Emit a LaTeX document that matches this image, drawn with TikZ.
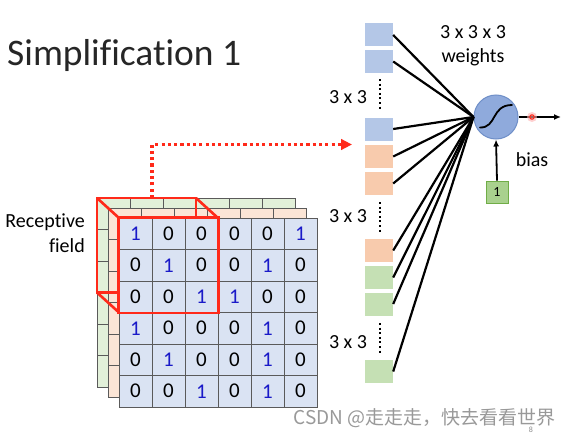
\documentclass[tikz,border=0pt]{standalone}
\usepackage{fontspec}
\setmainfont{Carlito}[Ligatures={NoCommon}]
\newfontfamily\cjk{Noto Sans CJK SC}
\usetikzlibrary{arrows.meta}
\definecolor{cellB}{HTML}{DAE3F3}
\definecolor{cellO}{HTML}{FBE5D6}
\definecolor{cellG}{HTML}{E2F0D9}
\definecolor{sqB}{HTML}{B4C7E7}
\definecolor{sqO}{HTML}{F8CBAD}
\definecolor{sqG}{HTML}{C5E0B4}
\definecolor{neur}{HTML}{8FAADC}
\definecolor{neurB}{HTML}{6F8FC8}
\definecolor{biasG}{HTML}{A9D18E}
\definecolor{biasB}{HTML}{70AD47}
\definecolor{oneblue}{HTML}{1A1AC8}
\definecolor{redl}{HTML}{FF2A1A}
\definecolor{gridl}{HTML}{5A5A5A}
\begin{document}
\begin{tikzpicture}[x=1pt,y=-1pt,
  cell/.style={draw=gridl, line width=0.9pt, minimum width=33pt, minimum height=31.5pt, inner sep=0pt, font=\fontsize{21}{21}\selectfont},
  sq/.style={minimum width=28pt, minimum height=23pt, inner sep=0pt},
  wire/.style={line width=2.2pt, black},
  lbl/.style={font=\fontsize{20}{22}\selectfont, inner sep=0pt},
  redbox/.style={draw=redl, line width=2.6pt, line join=miter},
  vdots/.style={line width=2pt, dash pattern=on 2pt off 2.6pt},
]
\useasboundingbox[fill=white] (0,0) rectangle (569,436);

% title
\node[anchor=base west, inner sep=0pt, text=black!85, font=\fontsize{37.5}{40}\selectfont] (title) at (7,65) {Simplification 1};

% back grids
\foreach \r in {0,...,5}{
  \foreach \c in {0,...,5}{
    \node[cell, fill=cellG] (g-\r-\c) at ({97+33*\c+16.5},{198+31.5*\r+15.75}) {};
  }
}
\foreach \r in {0,...,5}{
  \foreach \c in {0,...,5}{
    \node[cell, fill=cellO] (o-\r-\c) at ({108+33*\c+16.5},{208+31.5*\r+15.75}) {};
  }
}
% red cube back
\draw[redbox] (97,198) rectangle (196,292.5);
\draw[redbox] (97,198) -- (119,218);
\draw[redbox] (196,198) -- (218,218);
\draw[redbox] (97,292.5) -- (119,312.5);

% front grid
\foreach \r/\row in {0/{1,0,0,0,0,1},1/{0,1,0,0,1,0},2/{0,0,1,1,0,0},3/{1,0,0,0,1,0},4/{0,1,0,0,1,0},5/{0,0,1,0,1,0}}{
  \foreach \v [count=\c from 0] in \row {
    \node[cell, fill=cellB] (f-\r-\c) at ({119+33*\c+16.5},{218+31.5*\r+15.75}) {\ifnum\v=1 \color{oneblue}\fi\v};
  }
}
\draw[redbox] (f-0-0.north west) rectangle (f-2-2.south east);

\node[lbl, anchor=east] (rec1) at (85,222) {Receptive};
\node[lbl, anchor=east] (rec2) at (85,246) {field};

% column of inputs
\node[sq, fill=sqB] (s1) at (379,35) {};
\node[sq, fill=sqB] (s2) at (379,61.5) {};
\node[sq, fill=sqB] (s3) at (379,129) {};
\node[sq, fill=sqO] (s4) at (379,156.5) {};
\node[sq, fill=sqO] (s5) at (379,183.5) {};
\node[sq, fill=sqO] (s6) at (379,250.5) {};
\node[sq, fill=sqG] (s7) at (379,277.5) {};
\node[sq, fill=sqG] (s8) at (379,304) {};
\node[sq, fill=sqG] (s9) at (379,371.5) {};

\draw[vdots] (380,79) -- (380,111);
\draw[vdots] (380,202) -- (380,233);
\draw[vdots] (380,323) -- (380,354);
\node[lbl] (l1) at (348,97) {3 x 3};
\node[lbl] (l2) at (348,216) {3 x 3};
\node[lbl] (l3) at (348,342) {3 x 3};

% red dotted arrow
\coordinate (rstart) at (152,198);
\coordinate (rcorner) at (152,144.5);
\coordinate (rtip) at (352,144.5);
\draw[draw=redl, line width=3.2pt, dash pattern=on 3.1pt off 3.2pt, -{Triangle[length=11pt,width=10.5pt]}] (rstart) -- (rcorner) -- (rtip);

% neuron
\node[circle, fill=neur, draw=neurB, line width=1pt, minimum size=44pt, inner sep=0pt] (neuron) at (496,117) {};
\draw[line width=1.8pt, line cap=round] (480,127.5) .. controls (497,128) and (491,105) .. (512,105);
\foreach \i in {1,...,9}{
  \draw[wire] (s\i.east) -- (neuron.west);
}

\coordinate (out) at (561,117);
\draw[line width=1.8pt, -{Latex[length=7pt,width=6pt]}] (neuron.east) -- (out);
\fill[red!30, opacity=0.6] (532,117) circle (5);
\draw[redl, line width=1.1pt] (532,117) circle (2.2);

\node[lbl] (w1) at (473,32) {3 x 3 x 3};
\node[lbl] (w2) at (473,57) {weights};
\node[lbl] (bias) at (532,160) {bias};

\node[fill=biasG, draw=biasB, line width=0.8pt, minimum width=22pt, minimum height=22pt, inner sep=0pt, font=\fontsize{14}{14}\selectfont] (one) at (497,192) {1};
\draw[line width=1.8pt, -{Latex[length=7pt,width=6pt]}] (one.north) -- (neuron.south);

% watermark
\node[anchor=east, inner sep=0pt, text=black!40, font=\cjk\fontsize{19}{21}\selectfont] (wm) at (556,418) {CSDN @走走走，快去看看世界};
\node[inner sep=0pt, text=black!45, font=\fontsize{8}{9}\selectfont] (pg) at (531,430) {8};
\end{tikzpicture}
\end{document}
